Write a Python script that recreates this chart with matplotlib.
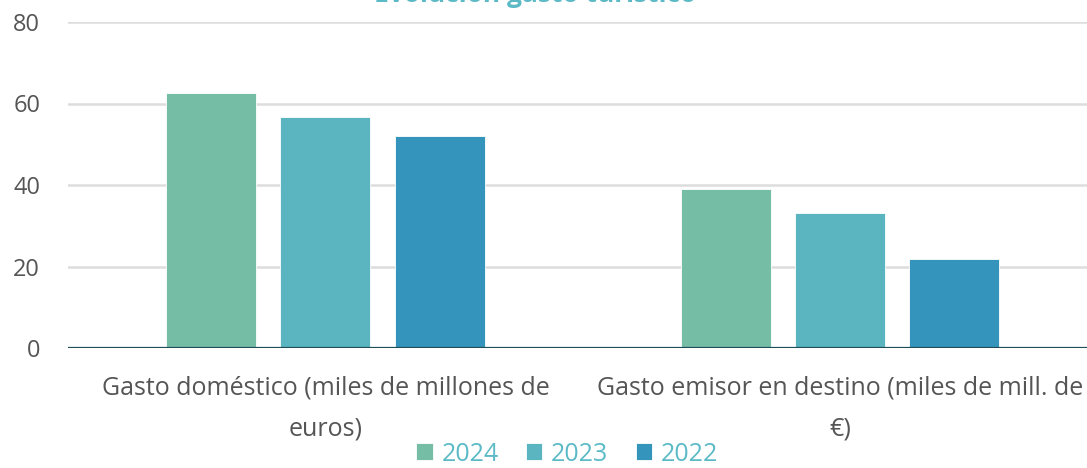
import matplotlib.pyplot as plt
import numpy as np

# datos
categorias = ['Gasto doméstico (miles de millones de\neuros)',
              'Gasto emisor en destino (miles de mill. de\n€)']
anios = ['2024', '2023', '2022']
gasto_2024 = [62.6, 39.0]
gasto_2023 = [56.7, 33.1]
gasto_2022 = [52.0, 21.8]
colores = ['#76bda6', '#5ab5c0', '#3594bb']

plt.rcParams['font.family'] = ['Open Sans', 'DejaVu Sans']

fig = plt.figure(figsize=(10.87, 4.68), dpi=100)
ax = fig.add_axes([68 / 1087, 1 - 348 / 468, 1029.5 / 1087, 326 / 468])

x = np.arange(len(categorias))
ancho = 0.175
paso = 0.222
series = [gasto_2024, gasto_2023, gasto_2022]
for i, (valores, anio) in enumerate(zip(series, anios)):
    ax.bar(x + (i - 1) * paso, valores, ancho, color=colores[i], label=anio,
           edgecolor='white', linewidth=0.6, zorder=3)

ax.set_xlim(-0.5, 1.5)
ax.set_ylim(0, 80)
ax.set_yticks([0, 20, 40, 60, 80])
ax.yaxis.grid(True, color='#dddddd', linewidth=1.8, zorder=0)
ax.axhline(0, color='#1f4e5a', linewidth=1.6, zorder=4)
for s in ax.spines.values():
    s.set_visible(False)
ax.tick_params(axis='both', length=0, labelcolor='#555555')
ax.tick_params(axis='y', labelsize=17, pad=20)
ax.set_xticks(x)
ax.set_xticklabels(categorias, linespacing=1.85)
ax.tick_params(axis='x', labelsize=18, pad=20)

fig.text(0.492, 1.012, 'Evolución gasto turístico', ha='center', va='center',
         fontsize=19, fontweight='bold', color='#5bbac6')

leg = fig.legend(loc='lower center', bbox_to_anchor=(0.522, -0.045), ncol=3,
                 frameon=False, fontsize=18, handlelength=0.65, handleheight=0.65,
                 handletextpad=0.35, columnspacing=1.1)
for t in leg.get_texts():
    t.set_color('#5bbac6')

fig.savefig('out.png', dpi=100)
